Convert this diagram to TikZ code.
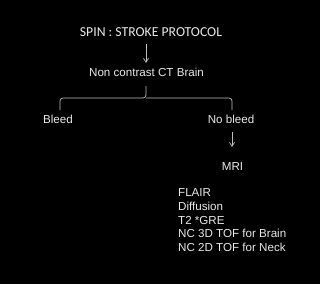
\documentclass[tikz,border=0pt]{standalone}
\usepackage{fontspec}
\setmainfont{Liberation Sans}
\newfontfamily\titlefont{Carlito}
\usepackage{tikz}
\usetikzlibrary{arrows.meta}
\definecolor{textgray}{RGB}{232, 232, 232}
\definecolor{linegray}{RGB}{190, 190, 190}

\begin{document}
\begin{tikzpicture}[x=1pt, y=-1pt, >={Straight Barb[length=4pt, width=5pt]},
    label/.style={text=textgray, inner sep=0pt, font=\fontsize{11.6}{13.75}\selectfont},
    connector/.style={draw=linegray, line width=0.7pt}]
    \fill[black] (0,0) rectangle (320,284);

    % text
    \node[label, anchor=base, font=\titlefont\fontsize{13.7}{15}\selectfont] (title) at (151,36.7) {SPIN : STROKE PROTOCOL};
    \node[label, anchor=base] (ct) at (146.5,76.7) {Non contrast CT Brain};
    \node[label, anchor=base] (bleed) at (58,123.3) {Bleed};
    \node[label, anchor=base] (nobleed) at (231,123.3) {No bleed};
    \node[label, anchor=base] (mri) at (232.5,170) {MRI};
    \node[label, anchor=base west, align=left] (seq) at (178,251.7)
        {FLAIR\\Diffusion\\T2 *GRE\\NC 3D TOF for Brain\\NC 2D TOF for Neck};

    % connectors
    \coordinate (tip) at (146,86);
    \coordinate (mid) at (146,98);
    \coordinate (bl) at (60,110);
    \coordinate (br) at (232,110);
    \coordinate (mritop) at (232,147);
    \draw[connector, ->] (146,44) -- (146,63);
    \draw[connector, rounded corners=3pt] (bl) |- (mid) -- (tip);
    \draw[connector, rounded corners=3pt] (br) |- (mid);
    \draw[connector, ->] (232,131.5) -- (mritop);
\end{tikzpicture}
\end{document}
